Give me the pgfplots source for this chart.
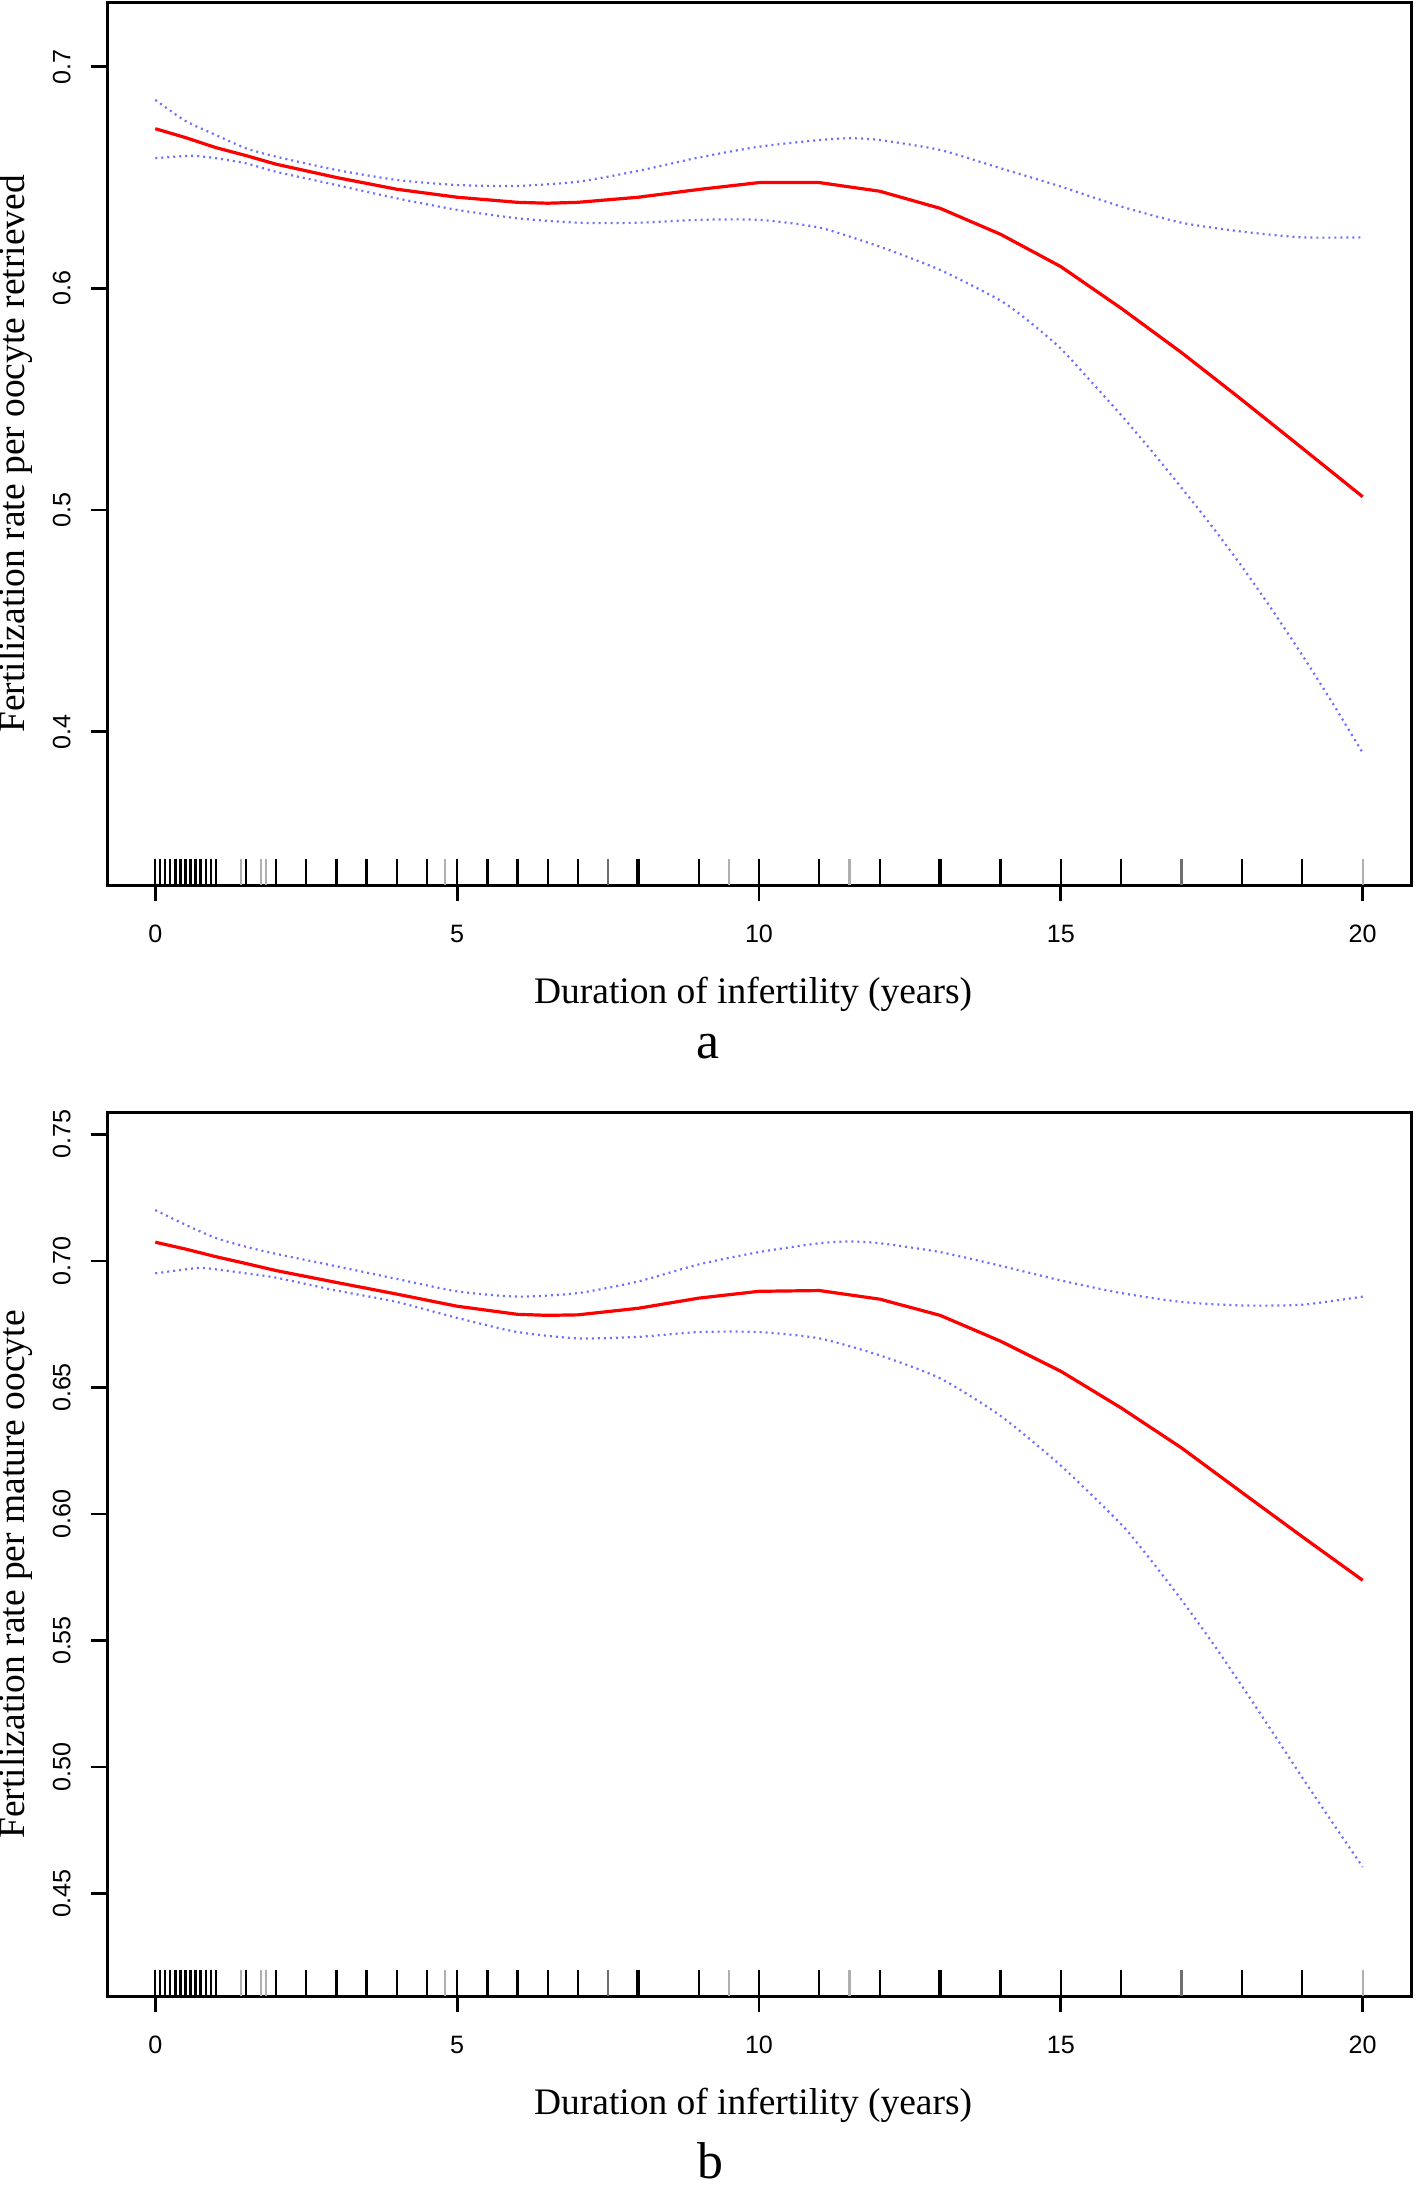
\documentclass[border=0pt]{standalone}
\usepackage{fontspec}
\setmainfont{Liberation Serif}
\newfontfamily\tickfont{Liberation Sans}
\usepackage{pgfplots}
\pgfplotsset{compat=1.18}
\definecolor{fitred}{RGB}{255,0,0}
\definecolor{ciblue}{RGB}{110,110,255}
\definecolor{ruggray}{RGB}{175,175,175}
\definecolor{rugmid}{RGB}{110,110,110}

\pgfplotsset{
  myaxis/.style={
    scale only axis, width=326bp,
    xmin=-0.8, xmax=20.8,
    axis line style={line width=0.75bp},
    every tick/.style={black, line width=0.7bp},
    major tick length=4bp,
    tick align=outside,
    tick pos=left,
    xtick={0,5,10,15,20}, xticklabels={0,5,10,15,20},
    xticklabel style={font=\tickfont\fontsize{6.3}{7.5}\selectfont, anchor=north, inner ysep=5.8bp},
    yticklabel style={font=\tickfont\fontsize{6.3}{7.5}\selectfont, rotate=90, anchor=south, inner ysep=4.9bp},
    xlabel={Duration of infertility (years)},
    xlabel style={font=\fontsize{9.4}{11}\selectfont, at={(axis description cs:0.4955,0)}, anchor=base, yshift=-29.5bp},
    fit/.style={fitred, line width=0.8bp},
    ci/.style={ciblue, line width=0.55bp, dash pattern=on 0.5bp off 1bp, smooth, tension=0.4},
  },
  rugblack/.style={only marks, mark=|, mark size=3.3bp, mark options={black, line width=0.55bp}},
  rugthick/.style={only marks, mark=|, mark size=3.3bp, mark options={black, line width=0.9bp}},
  rugmid/.style={only marks, mark=|, mark size=3.3bp, mark options={rugmid, line width=0.55bp}},
  ruggray/.style={only marks, mark=|, mark size=3.3bp, mark options={ruggray, line width=0.55bp}},
}

\begin{document}
\begin{tikzpicture}
\useasboundingbox (0,0) rectangle (354bp,-546.25bp);

% ---------------- panel a ----------------
\begin{axis}[myaxis, height=220.5bp,
  at={(26.75bp,-221.25bp)}, anchor=south west,
  ymin=0.3309, ymax=0.7287,
  ytick={0.4,0.5,0.6,0.7}, yticklabels={0.4,0.5,0.6,0.7},
  ylabel={Fertilization rate per oocyte retrieved},
  ylabel style={font=\fontsize{9.4}{11}\selectfont, at={(axis description cs:-0.0698,0.4887)}, anchor=center}]
\addplot[rugblack] coordinates {(0,0.3369)(0.0833,0.3369)(0.1667,0.3369)(0.25,0.3369)(0.3333,0.3369)(0.4167,0.3369)(0.5,0.3369)(0.5833,0.3369)(0.6667,0.3369)(0.75,0.3369)(0.8333,0.3369)(0.9167,0.3369)(1,0.3369)(1.5,0.3369)(2,0.3369)(2.5,0.3369)(3.5,0.3369)(4,0.3369)(4.5,0.3369)(5,0.3369)(6,0.3369)(6.5,0.3369)(7,0.3369)(9,0.3369)(10,0.3369)(11,0.3369)(12,0.3369)(14,0.3369)(15,0.3369)(16,0.3369)(18,0.3369)(19,0.3369)};
\addplot[rugthick] coordinates {(3,0.3369)(5.5,0.3369)(8,0.3369)(13,0.3369)};
\addplot[rugmid] coordinates {(7.5,0.3369)(17,0.3369)};
\addplot[ruggray] coordinates {(1.4167,0.3369)(1.75,0.3369)(1.8333,0.3369)(4.8,0.3369)(9.5,0.3369)(11.5,0.3369)(20,0.3369)};
\addplot[ci] coordinates {(0,0.6850)(0.5,0.6755)(1,0.6692)(1.5,0.6632)(2,0.6594)(3,0.6534)(4,0.6489)(5,0.6466)(6,0.6462)(7,0.6481)(8,0.6530)(9,0.6590)(10,0.6639)(11,0.6669)(11.5,0.6677)(12,0.6669)(13,0.6624)(14,0.6542)(15,0.6459)(16,0.6369)(17,0.6296)(18,0.6256)(19,0.6230)(20,0.6230)};
\addplot[ci] coordinates {(0,0.6587)(0.6,0.6598)(1,0.6587)(1.5,0.6564)(2,0.6526)(3,0.6466)(4,0.6406)(5,0.6354)(6,0.6316)(7,0.6296)(8,0.6296)(9,0.6309)(10,0.6309)(11,0.6274)(12,0.6188)(13,0.6083)(14,0.5945)(14.5,0.5845)(15,0.5728)(15.5,0.5580)(16,0.5428)(16.5,0.5268)(17,0.5100)(17.5,0.4928)(18,0.4745)(18.5,0.4550)(19,0.4345)(19.5,0.4130)(20,0.3905)};
\addplot[fit] coordinates {(0,0.6720)(0.5,0.6680)(1,0.6635)(1.5,0.6599)(2,0.6560)(2.5,0.6530)(3,0.6500)(4,0.6447)(5,0.6411)(6,0.6388)(6.5,0.6384)(7,0.6388)(8,0.6411)(9,0.6446)(10,0.6477)(11,0.6477)(12,0.6438)(13,0.6361)(14,0.6244)(15,0.6098)(16,0.5910)(17,0.5710)(18,0.5497)(19,0.5279)(20,0.5060)};
\end{axis}
\node[font=\fontsize{13}{15}\selectfont, anchor=base] at (177bp,-264.5bp) {a};

% ---------------- panel b ----------------
\begin{axis}[myaxis, height=220.9bp,
  at={(26.75bp,-499bp)}, anchor=south west,
  ymin=0.4095, ymax=0.7587,
  ytick={0.45,0.50,0.55,0.60,0.65,0.70,0.75}, yticklabels={0.45,0.50,0.55,0.60,0.65,0.70,0.75},
  ylabel={Fertilization rate per mature oocyte},
  ylabel style={font=\fontsize{9.4}{11}\selectfont, at={(axis description cs:-0.0698,0.477)}, anchor=center}]
\addplot[rugblack] coordinates {(0,0.4147)(0.0833,0.4147)(0.1667,0.4147)(0.25,0.4147)(0.3333,0.4147)(0.4167,0.4147)(0.5,0.4147)(0.5833,0.4147)(0.6667,0.4147)(0.75,0.4147)(0.8333,0.4147)(0.9167,0.4147)(1,0.4147)(1.5,0.4147)(2,0.4147)(2.5,0.4147)(3.5,0.4147)(4,0.4147)(4.5,0.4147)(5,0.4147)(6,0.4147)(6.5,0.4147)(7,0.4147)(9,0.4147)(10,0.4147)(11,0.4147)(12,0.4147)(14,0.4147)(15,0.4147)(16,0.4147)(18,0.4147)(19,0.4147)};
\addplot[rugthick] coordinates {(3,0.4147)(5.5,0.4147)(8,0.4147)(13,0.4147)};
\addplot[rugmid] coordinates {(7.5,0.4147)(17,0.4147)};
\addplot[ruggray] coordinates {(1.4167,0.4147)(1.75,0.4147)(1.8333,0.4147)(4.8,0.4147)(9.5,0.4147)(11.5,0.4147)(20,0.4147)};
\addplot[ci] coordinates {(0,0.7201)(0.5,0.7143)(1,0.7091)(1.5,0.7056)(2,0.7028)(3,0.6979)(4,0.6929)(5,0.6880)(6,0.6859)(7,0.6873)(8,0.6919)(9,0.6986)(10,0.7035)(11,0.7070)(11.5,0.7077)(12,0.7070)(13,0.7035)(14,0.6981)(15,0.6923)(16,0.6873)(17,0.6838)(18,0.6824)(19,0.6827)(20,0.6859)};
\addplot[ci] coordinates {(0,0.6951)(0.7,0.6972)(1,0.6967)(1.5,0.6951)(2,0.6934)(3,0.6883)(4,0.6838)(5,0.6775)(6,0.6719)(7,0.6694)(8,0.6700)(9,0.6719)(10,0.6719)(11,0.6694)(12,0.6627)(13,0.6536)(14,0.6388)(15,0.6191)(16,0.5959)(16.5,0.5815)(17,0.5660)(17.5,0.5495)(18,0.5320)(18.5,0.5140)(19,0.4958)(19.5,0.4780)(20,0.4605)};
\addplot[fit] coordinates {(0,0.7074)(0.5,0.7047)(1,0.7017)(1.5,0.6990)(2,0.6962)(3,0.6915)(4,0.6869)(5,0.6821)(6,0.6789)(6.5,0.6785)(7,0.6787)(8,0.6813)(9,0.6853)(10,0.6880)(11,0.6883)(12,0.6849)(13,0.6785)(14,0.6683)(15,0.6564)(16,0.6419)(17,0.6261)(18,0.6085)(19,0.5910)(20,0.5738)};
\end{axis}
\node[font=\fontsize{13}{15}\selectfont, anchor=base] at (177.5bp,-544.6bp) {b};
\end{tikzpicture}
\end{document}
